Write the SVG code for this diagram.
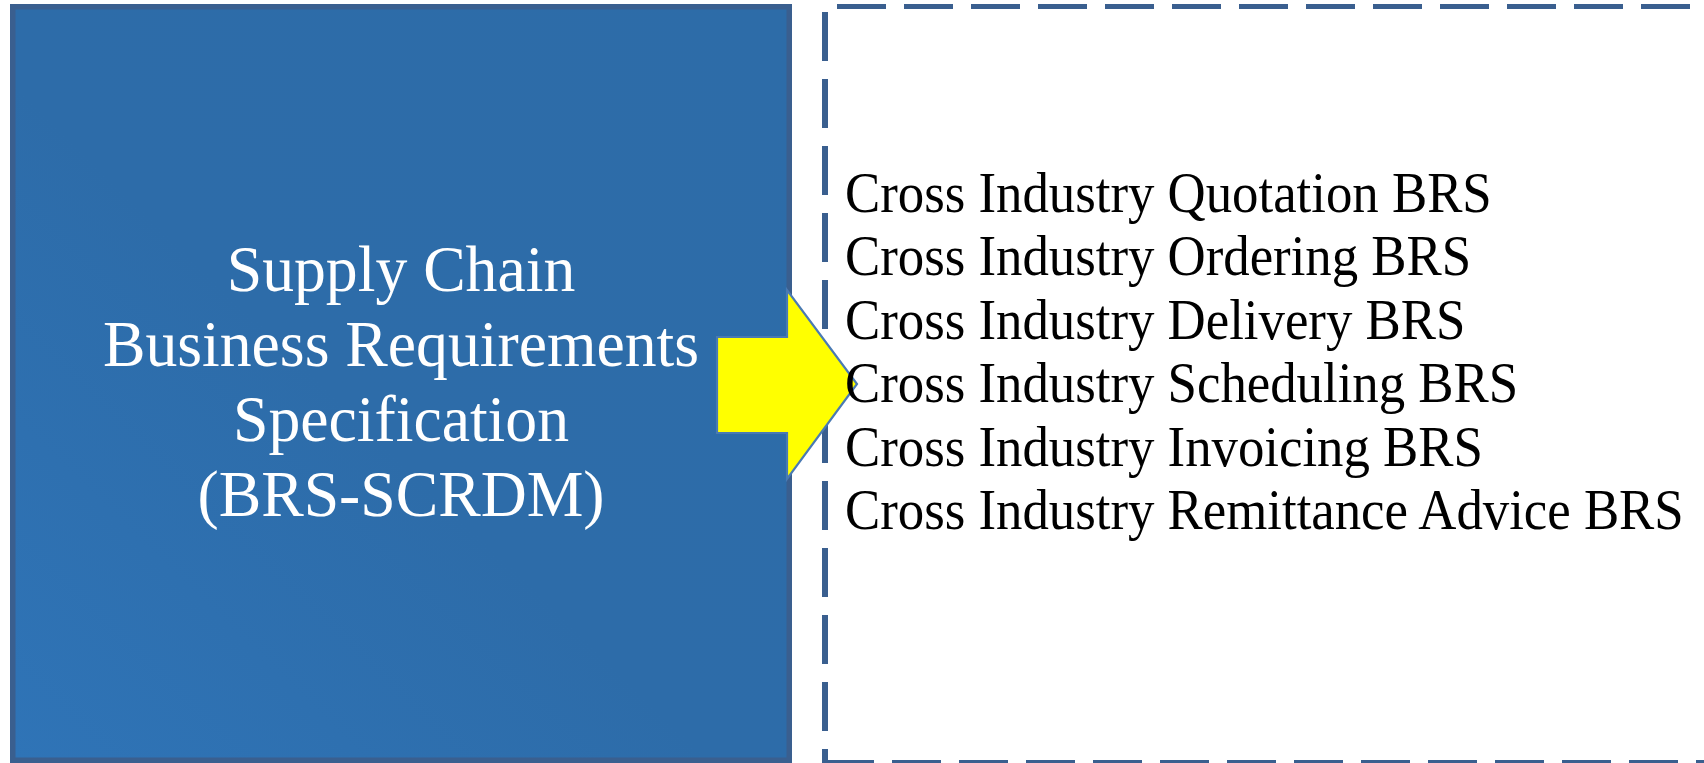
<svg xmlns="http://www.w3.org/2000/svg" width="1704" height="763" viewBox="0 0 1704 763">
  <style>
    .title { font-family: "Liberation Serif", "Times New Roman", serif; font-size: 66px; fill: #ffffff; text-anchor: middle; }
    .item { font-family: "Liberation Serif", "Times New Roman", serif; font-size: 56px; fill: #000000; }
    .dash { stroke: #3a5f8f; fill: none; stroke-dasharray: 49 18; }
  </style>
  <defs>
    <linearGradient id="boxGrad" x1="0" y1="1" x2="1" y2="0">
      <stop offset="0" stop-color="#2f74b7"/>
      <stop offset="0.45" stop-color="#2d6ca9"/>
      <stop offset="1" stop-color="#2d6ca8"/>
    </linearGradient>
  </defs>
  <rect width="1704" height="763" fill="#ffffff"/>

  <g id="connectors">
    <g id="container-border">
      <line class="dash" x1="837" y1="6.5" x2="1704" y2="6.5" stroke-width="5"/>
      <line class="dash" x1="825" y1="12" x2="825" y2="763" stroke-width="6"/>
      <line class="dash" x1="825" y1="763" x2="1704" y2="763" stroke-width="6"/>
    </g>
  </g>

  <g id="node-scrdm">
    <rect x="12.75" y="6.75" width="776.5" height="753.5" fill="url(#boxGrad)" stroke="#3a5f8f" stroke-width="5.5"/>
    <text class="title" transform="matrix(0.965 0 0 1 401 291)" x="0" y="0">Supply Chain</text>
    <text class="title" transform="matrix(0.965 0 0 1 401 366)" x="0" y="0">Business Requirements</text>
    <text class="title" transform="matrix(0.965 0 0 1 401 441)" x="0" y="0">Specification</text>
    <text class="title" transform="matrix(0.965 0 0 1 401 516)" x="0" y="0">(BRS-SCRDM)</text>
  </g>

  <g id="node-arrow">
    <polygon points="717,337 787,337 787,290 857,384 787,479 787,433 717,433" fill="#ffff00" stroke="#4a7ab3" stroke-width="2.2" stroke-linejoin="miter"/>
  </g>

  <g id="node-brs-list">
    <text class="item" transform="matrix(0.943 0 0 1 845 212)" x="0" y="0">Cross Industry Quotation BRS</text>
    <text class="item" transform="matrix(0.943 0 0 1 845 275)" x="0" y="0">Cross Industry Ordering BRS</text>
    <text class="item" transform="matrix(0.943 0 0 1 845 339)" x="0" y="0">Cross Industry Delivery BRS</text>
    <text class="item" transform="matrix(0.943 0 0 1 845 402)" x="0" y="0">Cross Industry Scheduling BRS</text>
    <text class="item" transform="matrix(0.943 0 0 1 845 466)" x="0" y="0">Cross Industry Invoicing BRS</text>
    <text class="item" transform="matrix(0.943 0 0 1 845 529)" x="0" y="0">Cross Industry Remittance Advice BRS</text>
  </g>
</svg>
